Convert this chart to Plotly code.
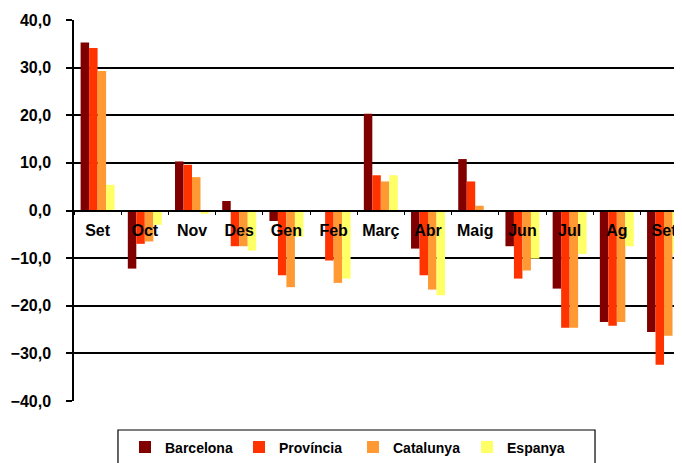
import plotly.graph_objects as go

months = ["Set", "Oct", "Nov", "Des", "Gen", "Feb", "Març", "Abr", "Maig", "Jun", "Jul", "Ag", "Set"]
barcelona = [35.3, -12.2, 10.3, 2.0, -2.2, -0.2, 20.3, -8.0, 10.8, -7.5, -16.4, -23.4, -25.5]
provincia = [34.1, -7.0, 9.6, -7.5, -13.6, -10.5, 7.4, -13.6, 6.1, -14.3, -24.6, -24.2, -32.4]
catalunya = [29.3, -6.5, 7.0, -7.5, -16.1, -15.2, 6.1, -16.6, 1.0, -12.6, -24.6, -23.4, -26.3]
espanya = [5.4, -3.0, -0.7, -8.4, -5.5, -14.3, 7.4, -17.8, 0.0, -10.1, -9.1, -7.5, -9.2]

series = [
    ("Barcelona", barcelona, "#800000"),
    ("Província", provincia, "#FF3300"),
    ("Catalunya", catalunya, "#FF9933"),
    ("Espanya", espanya, "#FFFF66"),
]

x = list(range(len(months)))
fig = go.Figure()
for name, vals, col in series:
    fig.add_trace(go.Bar(x=x, y=vals, name=name, marker=dict(color=col, line=dict(width=0))))

fig.add_shape(type="rect", xref="paper", yref="paper", x0=0.0714, x1=0.8458, y0=-0.3, y1=-0.0761,
              line=dict(color="black", width=1.2), fillcolor="rgba(0,0,0,0)", layer="above")

fig.update_layout(
    width=682, height=463,
    margin=dict(l=66, r=0, t=12, b=70, autoexpand=False),
    paper_bgcolor="white", plot_bgcolor="white",
    barmode="group", bargap=0.28, bargroupgap=0,
    separators=",.",
    font=dict(family="Liberation Sans", color="black"),
    showlegend=True,
    legend=dict(
        orientation="h", x=0.0828, xanchor="left", y=-0.08, yanchor="top",
        borderwidth=0, bgcolor="rgba(0,0,0,0)",
        font=dict(size=14, weight="bold", family="Liberation Sans"),
        entrywidth=69, entrywidthmode="pixels",
    ),
    xaxis=dict(
        range=[-0.5, 12.55], tickmode="array", tickvals=x, ticktext=months,
        showline=True, linecolor="black", linewidth=1.5,
        anchor="free", position=0.5, automargin=False,
        ticks="outside", ticklen=0, showgrid=False, zeroline=False,
        tickfont=dict(size=16, weight="bold", family="Liberation Sans"),
        ticklabelstandoff=6,
        minor=dict(ticks="outside", tick0=0.5, dtick=1, ticklen=4, tickcolor="black", showgrid=False),
        layer="above traces",
    ),
    yaxis=dict(
        range=[-40, 40], dtick=10, tickformat=".1f", automargin=False,
        showline=True, linecolor="black", linewidth=1.5,
        showgrid=True, gridcolor="black", gridwidth=1.5,
        zeroline=False,
        ticks="outside", ticklen=6, tickcolor="black", tickwidth=1.5,
        tickfont=dict(size=16, weight="bold", family="Liberation Sans"),
        ticklabelstandoff=12,
    ),
)

fig.write_html("out.html")
